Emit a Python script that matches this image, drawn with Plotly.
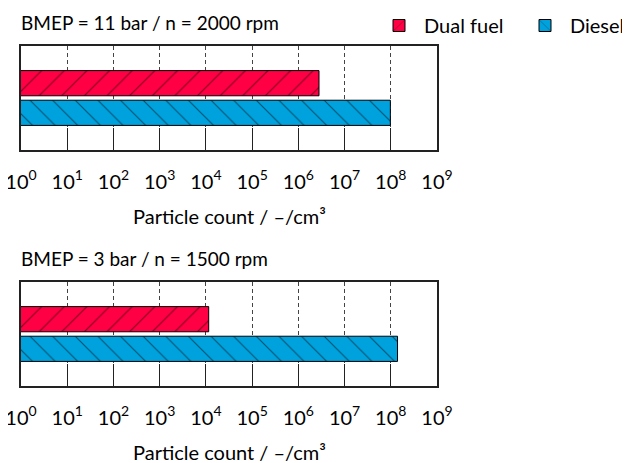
import plotly.graph_objects as go
from plotly.subplots import make_subplots

# ---- data ----
panel_titles = ["BMEP = 11 bar / n = 2000 rpm", "BMEP = 3 bar / n = 1500 rpm"]
series_names = ["Dual fuel", "Diesel"]
dual_fuel = [2.8e6, 1.15e4]
diesel = [9.8e7, 1.4e8]
tick_exponents = list(range(0, 10))
tick_values = [10 ** e for e in tick_exponents]
tick_labels = [f"10<sup>{e}</sup>" for e in tick_exponents]
axis_title = "Particle count / \u2013/cm\u00b3"

RED = "#FF0044"
BLUE = "#00A2DE"
FONT = "Lato"

OFF = 8  # page body margin
W, H = 630 - OFF, 463 - OFF
fig = make_subplots(rows=2, cols=1)


def fx(px):
    return (px - OFF) / W


def fy(py):
    return (H - (py - OFF)) / H


px_l, px_r = 21, 437
dom_x = [fx(px_l), fx(px_r)]
panels_px = [(46, 150), (282, 386)]

for i in range(2):
    row = i + 1
    cat = [panel_titles[i]]
    fig.add_trace(go.Bar(
        y=cat, x=[diesel[i]], orientation="h", name=series_names[1],
        marker=dict(color=BLUE, line=dict(color="black", width=1),
                    pattern=dict(shape="\\", size=16, solidity=0.07, fgcolor="black")),
        showlegend=(i == 0), legend="legend2",
    ), row=row, col=1)
    fig.add_trace(go.Bar(
        y=cat, x=[dual_fuel[i]], orientation="h", name=series_names[0],
        marker=dict(color=RED, line=dict(color="black", width=1),
                    pattern=dict(shape="/", size=16, solidity=0.07, fgcolor="black")),
        showlegend=(i == 0), legend="legend",
    ), row=row, col=1)

    top, bot = panels_px[i]
    xa = "xaxis" if i == 0 else "xaxis2"
    ya = "yaxis" if i == 0 else "yaxis2"
    fig.layout[xa].update(
        type="log", range=[0, 9], domain=dom_x, automargin=False,
        tickvals=tick_values, ticktext=tick_labels, ticklabeloverflow="allow",
        showgrid=True, gridcolor="#444444", gridwidth=1, griddash="4px,3px",
        ticks="inside", ticklen=22, tickcolor="#222222", tickwidth=1,
        showline=True, linecolor="#222222", linewidth=1.5, mirror=True,
        tickfont=dict(family=FONT, size=20, color="black"),
        ticklabelstandoff=13, zeroline=False,
    )
    fig.layout[ya].update(
        domain=[fy(bot), fy(top)], automargin=False,
        showticklabels=False, showgrid=False,
        showline=True, linecolor="#222222", linewidth=1.5, mirror=True,
        zeroline=False,
    )
    # panel title
    fig.add_annotation(text=panel_titles[i], xref="paper", yref="paper",
                       x=fx(px_l - 2), y=fy(top - 24), xanchor="left", yanchor="middle",
                       showarrow=False, font=dict(family=FONT, size=19, color="black"))
    # axis title
    fig.add_annotation(text=axis_title, xref="paper", yref="paper",
                       x=fx((px_l + px_r) / 2), y=fy(bot + 66),
                       xanchor="center", yanchor="middle",
                       showarrow=False, font=dict(family=FONT, size=20, color="black"))

legend_common = dict(orientation="h", yanchor="top",
                     font=dict(family=FONT, size=20, color="black"),
                     itemwidth=40, bgcolor="rgba(0,0,0,0)")

fig.update_layout(
    width=W, height=H,
    margin=dict(l=0, r=0, t=0, b=0, autoexpand=False),
    plot_bgcolor="white", paper_bgcolor="white",
    barmode="group", bargap=0.43, bargroupgap=0.15,
    legend=dict(x=fx(374), y=fy(6), xanchor="left", **legend_common),
    legend2=dict(x=1.0, y=fy(6), xanchor="right", **legend_common),
    font=dict(family=FONT),
)

fig.write_html("out.html")
